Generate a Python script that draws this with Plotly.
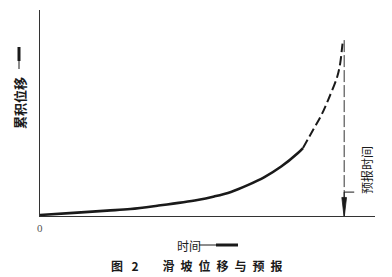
import plotly.graph_objects as go

# --- data ---
t_solid = [0, 10, 20, 27, 35, 47, 52, 57, 62, 67, 72, 77, 78.5]
d_solid = [0.5, 1.5, 2.6, 3.4, 5.0, 7.8, 9.5, 11.7, 15.0, 18.9, 24.0, 30.6, 33.0]
t_dash = [78.5, 81.5, 84, 86, 88.7, 89.6, 90.1, 90.4]
d_dash = [33.0, 41.7, 49.0, 56.3, 67.5, 74.0, 80.6, 85.0]
forecast_t = 90.8
forecast_top = 85.4

y_label = "累积位移"
x_label = "时间"
origin_label = "0"
forecast_label = "预报时间"
caption = "图\u2002\u20092\u2003\u2002\u2002滑\u2002坡\u2002位\u2002移\u2002与\u2002预\u2002报"

FONT = "Noto Sans CJK SC"
INK = "#1a1a1a"

fig = go.Figure()
fig.add_trace(go.Scatter(x=t_solid, y=d_solid, mode="lines",
                         line=dict(color=INK, width=2.6, shape="spline", smoothing=1.0),
                         hoverinfo="skip", showlegend=False))
fig.add_trace(go.Scatter(x=t_dash, y=d_dash, mode="lines",
                         line=dict(color=INK, width=2, shape="spline", dash="9px,4px"),
                         hoverinfo="skip", showlegend=False))
fig.add_trace(go.Scatter(x=[forecast_t, forecast_t], y=[forecast_top, 0], mode="lines",
                         line=dict(color="#333", width=1, dash="12px,3px"),
                         hoverinfo="skip", showlegend=False))

# arrow head at the forecast time and leader line
hw = 0.7
fig.add_shape(type="path",
              path=f"M {forecast_t-hw},9 L {forecast_t+hw},9 L {forecast_t},-0.8 Z",
              xref="x", yref="y", fillcolor=INK, line=dict(color=INK, width=0.8))
fig.add_shape(type="path",
              path=f"M {forecast_t},9 L {forecast_t},11.6 L {forecast_t+3},11.6",
              xref="x", yref="y", line=dict(color=INK, width=1))

# label arrows (decoration)
def px_x(p):
    return (p - 40) / 335
def px_y(p):
    return (216 - p) / 206

fig.add_shape(type="line", xref="paper", yref="paper",
              x0=px_x(199), x1=px_x(238), y0=px_y(245), y1=px_y(245),
              line=dict(color=INK, width=1))
fig.add_shape(type="line", xref="paper", yref="paper",
              x0=px_x(216), x1=px_x(238), y0=px_y(245), y1=px_y(245),
              line=dict(color=INK, width=3))
fig.add_shape(type="line", xref="paper", yref="paper",
              x0=px_x(19), x1=px_x(19), y0=px_y(69), y1=px_y(47),
              line=dict(color=INK, width=1))
fig.add_shape(type="line", xref="paper", yref="paper",
              x0=px_x(19), x1=px_x(19), y0=px_y(61), y1=px_y(47),
              line=dict(color=INK, width=3))

fig.add_annotation(text=y_label, xref="paper", yref="paper", x=px_x(19), y=px_y(103),
                   textangle=-90, showarrow=False, xanchor="center", yanchor="middle",
                   font=dict(family=FONT, size=13, color=INK, weight="bold"))
fig.add_annotation(text=x_label, xref="paper", yref="paper", x=px_x(189), y=px_y(245),
                   showarrow=False, xanchor="center", yanchor="middle",
                   font=dict(family=FONT, size=12, color=INK))
fig.add_annotation(text=origin_label, xref="paper", yref="paper", x=px_x(40), y=px_y(228),
                   showarrow=False, xanchor="center", yanchor="middle",
                   font=dict(family="Liberation Serif", size=11, color="#555"))
fig.add_annotation(text=forecast_label, xref="paper", yref="paper", x=px_x(366), y=px_y(170),
                   textangle=-90, showarrow=False, xanchor="center", yanchor="middle",
                   font=dict(family=FONT, size=12, color=INK))
fig.add_annotation(text=caption, xref="paper", yref="paper", x=px_x(196), y=px_y(265),
                   showarrow=False, xanchor="center", yanchor="middle",
                   font=dict(family=FONT, size=12, color=INK, weight="bold"))

fig.update_xaxes(range=[0, 100], showline=True, linecolor="#333", linewidth=1,
                 showgrid=False, zeroline=False, showticklabels=False, ticks="")
fig.update_yaxes(range=[0, 100], showline=True, linecolor="#333", linewidth=1,
                 showgrid=False, zeroline=False, showticklabels=False, ticks="")
fig.update_layout(width=392, height=277, margin=dict(l=40, r=17, t=10, b=61),
                  paper_bgcolor="white", plot_bgcolor="white", showlegend=False)

fig.write_html("out.html")
